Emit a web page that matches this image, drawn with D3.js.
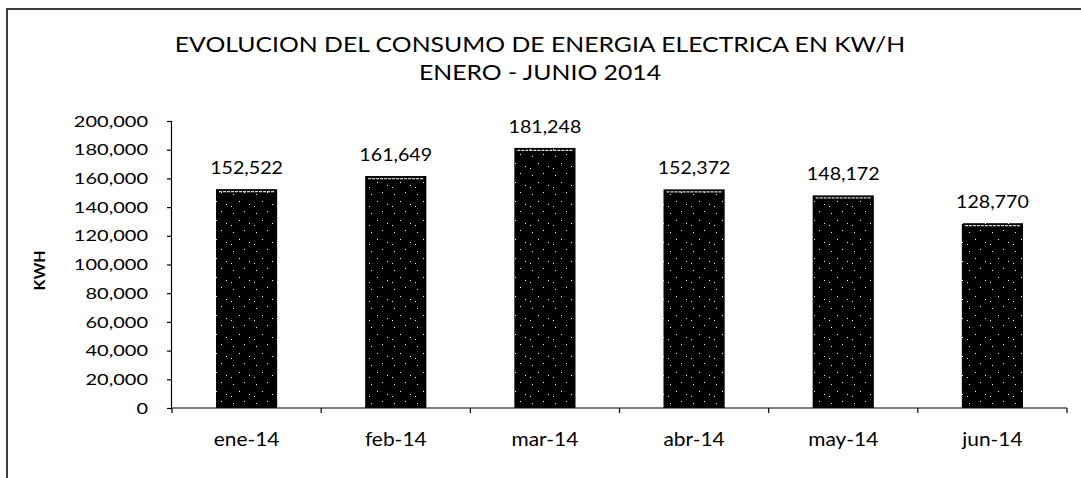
<!DOCTYPE html>
<html>
<head>
<meta charset="utf-8">
<script src="https://cdn.jsdelivr.net/npm/d3@7"></script>
<style>
  body { margin: 0; background: #fff; }
  svg { display: block; }
  text { font-family: Lato, "Open Sans", sans-serif; fill: #000; }
  .axis text { font-size: 16px; }
  .axis path, .axis line { stroke: #000; stroke-width: 1.2; }
</style>
</head>
<body>
<svg id="chart" width="1081" height="478"></svg>
<script>
// Data
var months = ['ene-14', 'feb-14', 'mar-14', 'abr-14', 'may-14', 'jun-14'];
var consumo = [152522, 161649, 181248, 152372, 148172, 128770];
var yTicks = [0, 20000, 40000, 60000, 80000, 100000, 120000, 140000, 160000, 180000, 200000];
var titleLines = ['EVOLUCION DEL CONSUMO DE ENERGIA ELECTRICA EN KW/H', 'ENERO - JUNIO 2014'];

var svg = d3.select('#chart');
var plot = { left: 172, right: 1067, top: 121, bottom: 408 };

// the scanned original is a bit wider than tall, so stretch text horizontally
function stretch(sel, k) {
  sel.each(function() {
    var w = this.getComputedTextLength();
    d3.select(this).attr('textLength', w * k).attr('lengthAdjust', 'spacingAndGlyphs');
  });
}

// chart frame (right and bottom edges fall outside the picture)
svg.append('rect')
    .attr('x', 7).attr('y', 9)
    .attr('width', 1100).attr('height', 500)
    .attr('fill', 'none').attr('stroke', '#000').attr('stroke-width', 1.5);

// speckle pattern for the bars
var pat = svg.append('defs').append('pattern')
    .attr('id', 'speck').attr('patternUnits', 'userSpaceOnUse')
    .attr('width', 23).attr('height', 19);
pat.append('rect').attr('width', 23).attr('height', 19).attr('fill', '#000');
[[3, 4], [14, 2], [9, 11], [19, 14], [1, 16]].forEach(function(p) {
  pat.append('rect').attr('x', p[0]).attr('y', p[1])
      .attr('width', 1).attr('height', 1).attr('fill', '#fff');
});

var x = d3.scaleBand()
    .domain(months)
    .range([plot.left, plot.right])
    .paddingInner(0.59)
    .paddingOuter(0.295);

var y = d3.scaleLinear()
    .domain([0, 200000])
    .range([plot.bottom, plot.top]);

// Title
svg.selectAll('text.title')
    .data(titleLines)
  .enter().append('text')
    .attr('class', 'title')
    .attr('x', 540)
    .attr('y', function(d, i) { return 52 + i * 28; })
    .attr('text-anchor', 'middle')
    .style('font-size', '21px')
    .text(function(d) { return d; })
    .call(stretch, 1.18);

// Bars
svg.selectAll('rect.bar')
    .data(consumo)
  .enter().append('rect')
    .attr('class', 'bar')
    .attr('x', function(d, i) { return x(months[i]); })
    .attr('y', function(d) { return y(d); })
    .attr('width', x.bandwidth())
    .attr('height', function(d) { return plot.bottom - y(d); })
    .attr('fill', 'url(#speck)');

// light band along bar tops
svg.selectAll('line.toplight')
    .data(consumo)
  .enter().append('line')
    .attr('class', 'toplight')
    .attr('x1', function(d, i) { return x(months[i]) + 3; })
    .attr('x2', function(d, i) { return x(months[i]) + x.bandwidth() - 3; })
    .attr('y1', function(d) { return y(d) + 2.5; })
    .attr('y2', function(d) { return y(d) + 2.5; })
    .attr('stroke', '#ddd').attr('stroke-width', 1.2)
    .attr('stroke-dasharray', '3,1');

// Value labels
svg.selectAll('text.value')
    .data(consumo)
  .enter().append('text')
    .attr('class', 'value')
    .attr('x', function(d, i) { return x(months[i]) + x.bandwidth() / 2; })
    .attr('y', function(d) { return y(d) - 15; })
    .attr('text-anchor', 'middle')
    .style('font-size', '18px')
    .text(function(d) { return d3.format(',')(d); })
    .call(stretch, 1.09);

// Y axis
var yAxis = svg.append('g')
    .attr('class', 'axis')
    .attr('transform', 'translate(' + plot.left + ',0)')
    .call(d3.axisLeft(y).tickValues(yTicks).tickFormat(d3.format(',')).tickSize(5).tickPadding(19));
yAxis.select('.domain').attr('d', 'M-0.5,' + plot.top + 'V' + plot.bottom);
yAxis.selectAll('.tick text').call(stretch, 1.25);

// X axis, ticks between categories
var xAxis = svg.append('g')
    .attr('class', 'axis')
    .attr('transform', 'translate(0,' + plot.bottom + ')')
    .call(d3.axisBottom(x).tickSize(0));
xAxis.select('.domain').attr('d', 'M' + plot.left + ',0H' + plot.right);
xAxis.selectAll('.tick text')
    .attr('y', 38).attr('dy', null)
    .style('font-size', '19px')
    .call(stretch, 1.1);
xAxis.selectAll('line.sep')
    .data(d3.range(months.length + 1))
  .enter().append('line')
    .attr('class', 'sep')
    .attr('x1', function(i) { return plot.left + i * x.step(); })
    .attr('x2', function(i) { return plot.left + i * x.step(); })
    .attr('y1', 0).attr('y2', 5);

// Y axis title
svg.append('text')
    .attr('transform', 'translate(45,' + ((plot.top + plot.bottom) / 2 + 6) + ') rotate(-90)')
    .attr('text-anchor', 'middle')
    .style('font-size', '16px')
    .style('font-weight', 'bold')
    .text('KWH');
</script>
</body>
</html>
